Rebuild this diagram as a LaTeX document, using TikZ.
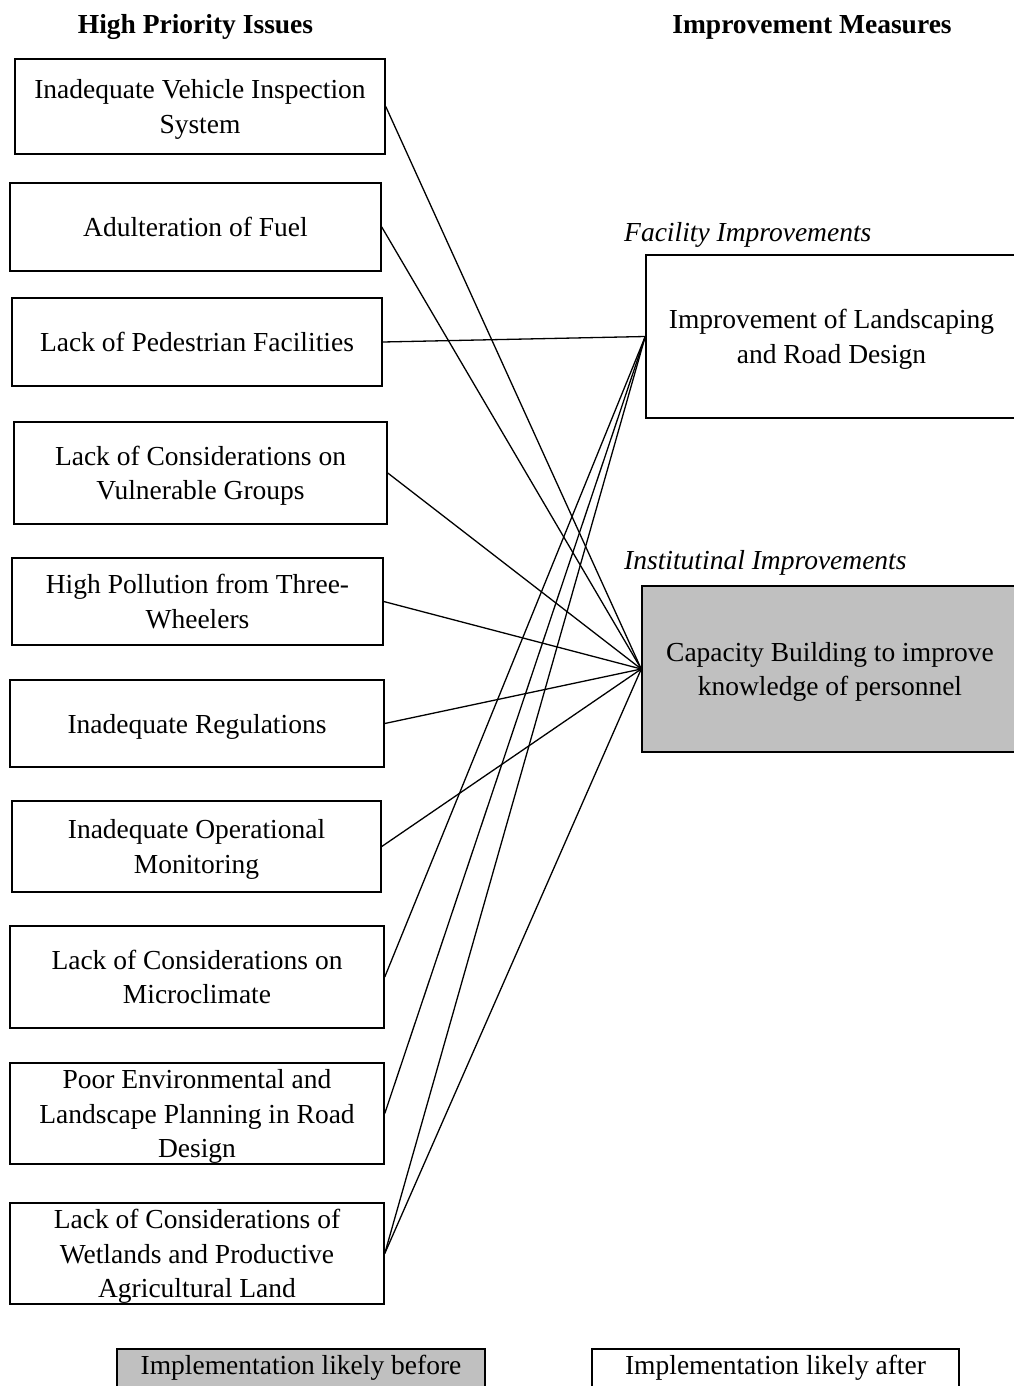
\documentclass[tikz,border=0pt]{standalone}
\usepackage{fontspec}
\setmainfont{Liberation Serif}
\definecolor{shade}{HTML}{C0C0C0}
\begin{document}
\begin{tikzpicture}[x=1pt,y=-1pt,
  every node/.style={font=\fontsize{27.5}{34.5}\selectfont},
  issue/.style={draw, line width=1.5pt, align=center, inner sep=0pt, text depth=0pt},
  measure/.style={issue},
  legendbox/.style={draw, line width=1.5pt, align=center, inner xsep=0pt,
    inner ysep=0pt, anchor=north, text height=26pt, text depth=32pt},
  heading/.style={font=\fontsize{27.5}{34.5}\selectfont\bfseries, anchor=base},
  group/.style={font=\fontsize{27.5}{34.5}\selectfont\itshape, anchor=west, inner xsep=0pt},
  link/.style={line width=1.3pt}]
\useasboundingbox (0,0) rectangle (1013,1386);

% column headings
\node[heading] (h1) at (195.5,34) {High Priority Issues};
\node[heading] (h2) at (812,34) {Improvement Measures};

% high priority issues
\node[issue, minimum width=370pt, minimum height=95pt] (i1) at (200,106.5)
  {Inadequate Vehicle Inspection\\System};
\node[issue, minimum width=371pt, minimum height=88pt] (i2) at (195.5,227)
  {Adulteration of Fuel};
\node[issue, minimum width=370pt, minimum height=88pt] (i3) at (197,342)
  {Lack of Pedestrian Facilities};
\node[issue, minimum width=373pt, minimum height=102pt] (i4) at (200.5,473)
  {Lack of Considerations on\\Vulnerable Groups};
\node[issue, minimum width=371pt, minimum height=87pt] (i5) at (197.5,601.5)
  {High Pollution from Three-\\Wheelers};
\node[issue, minimum width=374pt, minimum height=87pt] (i6) at (197,723.5)
  {Inadequate Regulations};
\node[issue, minimum width=369pt, minimum height=91pt] (i7) at (196.5,846.5)
  {Inadequate Operational\\Monitoring};
\node[issue, minimum width=374pt, minimum height=102pt] (i8) at (197,977)
  {Lack of Considerations on\\Microclimate};
\node[issue, minimum width=374pt, minimum height=101pt] (i9) at (197,1113.5)
  {Poor Environmental and\\Landscape Planning in Road\\Design};
\node[issue, minimum width=374pt, minimum height=101pt] (i10) at (197,1253.5)
  {Lack of Considerations of\\Wetlands and Productive\\Agricultural Land};

% improvement measures
\node[group] (g1) at (624,235) {Facility Improvements};
\node[measure, minimum width=371pt, minimum height=163pt] (fac) at (831.5,336.5)
  {Improvement of Landscaping\\and Road Design};
\node[group] (g2) at (624,563) {Institutinal Improvements};
\node[measure, fill=shade, minimum width=376pt, minimum height=166pt] (cap) at (830,669)
  {Capacity Building to improve\\knowledge of personnel};

% links from issues to measures
\draw[link] (i3.east) -- (fac.west);
\draw[link] (i8.east) -- (fac.west);
\draw[link] (i9.east) -- (fac.west);
\draw[link] (i10.east) -- (fac.west);
\draw[link] (i1.east) -- (cap.west);
\draw[link] (i2.east) -- (cap.west);
\draw[link] (i4.east) -- (cap.west);
\draw[link] (i5.east) -- (cap.west);
\draw[link] (i6.east) -- (cap.west);
\draw[link] (i7.east) -- (cap.west);
\draw[link] (i10.east) -- (cap.west);

% legend
\node[legendbox, fill=shade, minimum width=368pt] (lg1) at (301,1348)
  {Implementation likely before};
\node[legendbox, minimum width=367pt] (lg2) at (775.5,1348)
  {Implementation likely after};
\end{tikzpicture}
\end{document}
